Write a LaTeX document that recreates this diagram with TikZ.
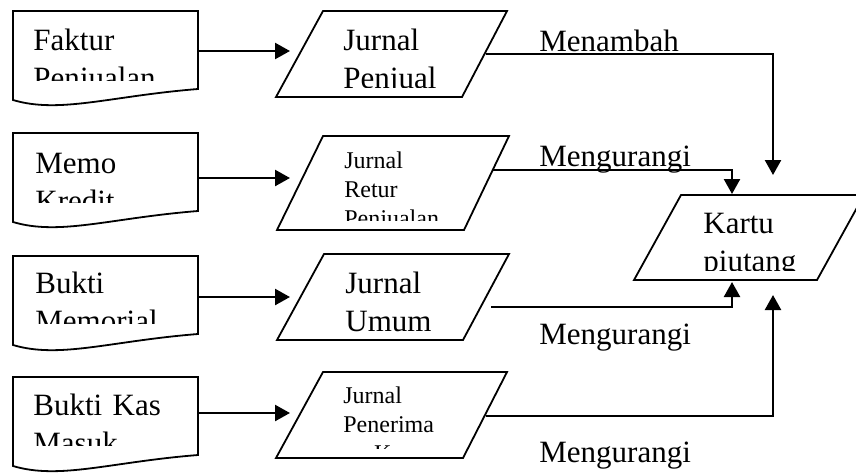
\documentclass[tikz,border=0pt]{standalone}
\usepackage{fontspec}
\setmainfont{Liberation Serif}
\usetikzlibrary{arrows.meta}

\tikzset{
  garis/.style={line width=0.9pt},
  panah/.style={line width=1.2pt,-{Triangle[length=7.5pt,width=8pt]}},
  teksbesar/.style={anchor=base west,inner sep=0pt,text width=90pt,align=left,
    font=\fontsize{15.5}{19}\selectfont},
  tekskecil/.style={anchor=base west,inner sep=0pt,text width=70pt,align=left,
    font=\fontsize{12}{14.5}\selectfont},
  ket/.style={anchor=base west,inner sep=0pt,font=\fontsize{15.5}{19}\selectfont}
}

\begin{document}
\begin{tikzpicture}[x=0.5pt,y=-0.5pt]
    \useasboundingbox (0,0) rectangle (856,472);
    \clip (0,0) rectangle (856,472);

    %draw documents
    \foreach \t in {11,133,256,377}
    \draw[garis,shift={(13,\t)}] (0,0) -- (185,0) -- (185,78)
        .. controls (97,85) and (47,103) .. (0,89) -- cycle;

    %draw journals
    \draw[garis] (323,11) -- (507,11) -- (462,97) -- (276,97) -- cycle;
    \draw[garis] (323,136) -- (509,136) -- (464,230) -- (277,230) -- cycle;
    \draw[garis] (324,254) -- (509,254) -- (463,340) -- (277,340) -- cycle;
    \draw[garis] (323,372) -- (507,372) -- (463,458) -- (276,458) -- cycle;

    %draw kartu piutang
    \draw[garis] (681,195) -- (864,195) -- (817,280) -- (634,280) -- cycle;

    %texts, cut off at the bottom
    \begin{scope}
    \clip (14,12) rectangle (197,80);
    \node[teksbesar] (faktur) at (33,50) {Faktur\\Penjualan};
    \end{scope}
    \begin{scope}
    \clip (14,134) rectangle (197,202);
    \node[teksbesar] (memo) at (35,173) {Memo\\Kredit};
    \end{scope}
    \begin{scope}
    \clip (14,257) rectangle (197,323);
    \node[teksbesar] (bukti) at (35,293) {Bukti\\Memorial};
    \end{scope}
    \begin{scope}
    \clip (14,378) rectangle (197,445);
    \node[teksbesar] (buktikas) at (33,415) {Bukti Kas\\Masuk};
    \end{scope}
    \begin{scope}
    \clip (300,12) rectangle (480,87);
    \node[teksbesar] (jpenj) at (343,50) {Jurnal\\Penjual\\an};
    \end{scope}
    \begin{scope}
    \clip (300,137) rectangle (480,220);
    \node[tekskecil] (jretur) at (344,168) {Jurnal\\Retur\\Penjualan};
    \end{scope}
    \begin{scope}
    \clip (300,255) rectangle (480,339);
    \node[teksbesar] (jumum) at (345,293) {Jurnal\\Umum};
    \end{scope}
    \begin{scope}
    \clip (300,373) rectangle (480,448);
    \node[tekskecil] (jkas) at (343,403) {Jurnal\\Penerima\\an Kas};
    \end{scope}
    \begin{scope}
    \clip (660,196) rectangle (840,270);
    \node[teksbesar] (kartu) at (703,233) {Kartu\\piutang};
    \end{scope}

    %connection points
    \coordinate (faktur-out) at (198,51);
    \coordinate (memo-out) at (198,178);
    \coordinate (bukti-out) at (198,297);
    \coordinate (buktikas-out) at (198,413);
    \coordinate (jpenj-in) at (290,51);
    \coordinate (jretur-in) at (290,178);
    \coordinate (jumum-in) at (290,297);
    \coordinate (jkas-in) at (290,413);
    \coordinate (jpenj-out) at (486,54);
    \coordinate (jretur-out) at (492,170);
    \coordinate (jumum-out) at (491,307);
    \coordinate (jkas-out) at (486,416);
    \coordinate (kartu-a) at (773,175);
    \coordinate (kartu-b) at (732,194);
    \coordinate (kartu-c) at (732,282);
    \coordinate (kartu-d) at (773,295);

    %draw arrows
    \draw[panah] (faktur-out) -- (jpenj-in);
    \draw[panah] (memo-out) -- (jretur-in);
    \draw[panah] (bukti-out) -- (jumum-in);
    \draw[panah] (buktikas-out) -- (jkas-in);
    \draw[panah] (jpenj-out) -| (kartu-a);
    \draw[panah] (jretur-out) -| (kartu-b);
    \draw[panah] (jumum-out) -| (kartu-c);
    \draw[panah] (jkas-out) -| (kartu-d);

    %draw labels
    \node[ket] (tambah) at (539,51) {Menambah};
    \node[ket] (kurang1) at (539,166) {Mengurangi};
    \node[ket] (kurang2) at (539,344) {Mengurangi};
    \node[ket] (kurang3) at (539,462) {Mengurangi};

\end{tikzpicture}
\end{document}
